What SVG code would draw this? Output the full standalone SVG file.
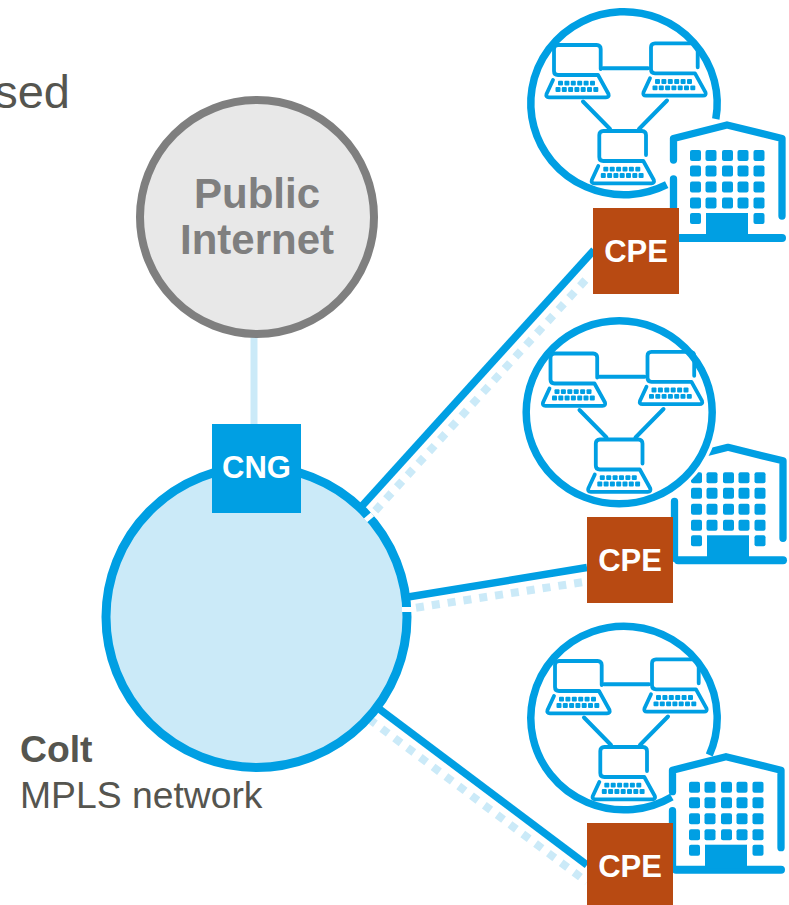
<svg xmlns="http://www.w3.org/2000/svg" xmlns:xlink="http://www.w3.org/1999/xlink" width="789" height="905" viewBox="0 0 789 905">
<style>
text{font-family:"Liberation Sans",Arial,sans-serif}
.ln{fill:none;stroke:#009fe3;stroke-linecap:round;stroke-linejoin:round}
.ring{fill:none;stroke:#009fe3;stroke-width:7.500}
.solid{stroke:#009fe3;stroke-width:7.500;fill:none}
.dash{stroke:#cbeaf8;stroke-width:8;stroke-dasharray:8 8;fill:none}
.cpe{fill:#b84a12}
.lab{fill:#fff;font-weight:700;font-size:31px;text-anchor:middle}
.f{fill:#009fe3}
.dark{fill:#55554f;font-size:37.300px}
</style>
<defs>
<g id="laptop">
<path class="ln" stroke-width="3.800" d="M47.700 25V5Q47.700 1 43.700 1H5Q1 1 1 5V27Q1 31 5 31H45L55.500 50Q56.500 53.300 53 53.300H-4Q-7.500 53.300 -6.500 50L0 36"/>
<g class="f">
<rect x="5" y="36.800" width="5" height="4.800" rx="1"/><rect x="11.400" y="36.800" width="5" height="4.800" rx="1"/><rect x="17.800" y="36.800" width="5" height="4.800" rx="1"/><rect x="24.200" y="36.800" width="5" height="4.800" rx="1"/><rect x="30.600" y="36.800" width="5" height="4.800" rx="1"/><rect x="37" y="36.800" width="5" height="4.800" rx="1"/>
<rect x="2.500" y="43.100" width="5" height="4.800" rx="1"/><rect x="8.800" y="43.100" width="5" height="4.800" rx="1"/><rect x="15.100" y="43.100" width="5" height="4.800" rx="1"/><rect x="21.400" y="43.100" width="5" height="4.800" rx="1"/><rect x="27.700" y="43.100" width="5" height="4.800" rx="1"/><rect x="34" y="43.100" width="5" height="4.800" rx="1"/><rect x="40.300" y="43.100" width="5" height="4.800" rx="1"/>
</g>
</g>
<g id="lan">
<use xlink:href="#laptop" href="#laptop" x="553" y="44"/>
<use xlink:href="#laptop" href="#laptop" x="650" y="42.300"/>
<use xlink:href="#laptop" href="#laptop" x="598.300" y="130"/>
<path class="ln" stroke-width="4" stroke-linecap="butt" d="M603 68.300H648M583 101.500L610 129M667 100.500L639 129"/>
</g>
<g id="building">
<path class="ln" stroke-width="7.300" d="M673.500 160V138.500L727 125L782 138.500V216M673.500 179V236"/>
<path class="ln" stroke-width="8" d="M677 238H782"/>
<g class="f">
<rect x="706" y="213" width="42" height="24"/>
<rect x="690" y="150" width="11" height="11" rx="2"/><rect x="705.500" y="150" width="11" height="11" rx="2"/><rect x="722" y="150" width="11" height="11" rx="2"/><rect x="737.500" y="150" width="11" height="11" rx="2"/><rect x="753.500" y="150" width="11" height="11" rx="2"/>
<rect x="690" y="165.500" width="11" height="11" rx="2"/><rect x="705.500" y="165.500" width="11" height="11" rx="2"/><rect x="722" y="165.500" width="11" height="11" rx="2"/><rect x="737.500" y="165.500" width="11" height="11" rx="2"/><rect x="753.500" y="165.500" width="11" height="11" rx="2"/>
<rect x="690" y="181.500" width="11" height="11" rx="2"/><rect x="705.500" y="181.500" width="11" height="11" rx="2"/><rect x="722" y="181.500" width="11" height="11" rx="2"/><rect x="737.500" y="181.500" width="11" height="11" rx="2"/><rect x="753.500" y="181.500" width="11" height="11" rx="2"/>
<rect x="690" y="197.500" width="11" height="11" rx="2"/><rect x="705.500" y="197.500" width="11" height="11" rx="2"/><rect x="722" y="197.500" width="11" height="11" rx="2"/><rect x="737.500" y="197.500" width="11" height="11" rx="2"/><rect x="753.500" y="197.500" width="11" height="11" rx="2"/>
<rect x="690" y="213" width="11" height="11" rx="2"/><rect x="753.500" y="213" width="11" height="11" rx="2"/>
</g>
</g>
</defs>
<text x="70" y="108" font-size="47" fill="#55554f" text-anchor="end">sed</text>
<g id="connectors">
<path d="M254 335V425" stroke="#cbeaf8" stroke-width="7" fill="none"/>
<path class="solid" d="M362 506L594 250"/>
<path class="dash" d="M375.300 510.700L590 275"/>
<path class="solid" d="M408 597L587 567.500"/>
<path class="dash" d="M416 607.700L587 581.500"/>
<path class="solid" d="M378 708L587 865"/>
<path class="dash" d="M369 719L587 882"/>
</g>
<g id="public-internet">
<circle cx="257" cy="217" r="117" fill="#e8e8e8" stroke="#7f7f7f" stroke-width="8"/>
<text x="257" y="208" font-size="42" font-weight="700" fill="#7f7f7f" text-anchor="middle">Public</text>
<text x="257" y="254" font-size="42" font-weight="700" fill="#7f7f7f" text-anchor="middle">Internet</text>
</g>
<g id="colt-mpls">
<circle cx="256.500" cy="617" r="150.500" fill="#cbeaf8" stroke="#009fe3" stroke-width="9"/>
<path d="M365.500 520.400L372.500 514.400M402 609.500H412" stroke="#fff" stroke-width="5" fill="none"/>
<text class="dark" x="20" y="762" font-weight="700">Colt</text>
<text class="dark" x="20" y="808">MPLS network</text>
</g>
<g id="cng">
<rect x="212" y="424" width="89" height="89" fill="#009fe3"/>
<text class="lab" x="256.500" y="478">CNG</text>
</g>
<g id="site-1">
<path class="ring" d="M715.800 119A93.200 91.500 0 1 0 666.700 184.600"/>
<use xlink:href="#lan" href="#lan"/>
<use xlink:href="#building" href="#building"/>
<rect class="cpe" x="593" y="208" width="86" height="86"/>
<text class="lab" x="636" y="262">CPE</text>
</g>
<g id="site-2">
<use xlink:href="#building" href="#building" x="1" y="322.300"/>
<ellipse cx="619.200" cy="412.300" rx="100" ry="98" fill="#fff"/>
<ellipse class="ring" cx="619.200" cy="412.300" rx="93" ry="91.500"/>
<use xlink:href="#lan" href="#lan" x="-3.500" y="308.500"/>
<rect class="cpe" x="587" y="517" width="86" height="86"/>
<text class="lab" x="630" y="571">CPE</text>
</g>
<g id="site-3">
<path class="ring" d="M709.300 755A93.200 91.800 0 1 0 671.700 796.900"/>
<use xlink:href="#lan" href="#lan" x="1" y="616"/>
<use xlink:href="#building" href="#building" x="-1" y="631.700"/>
<rect class="cpe" x="587" y="823" width="86" height="82"/>
<text class="lab" x="630" y="877">CPE</text>
</g>
</svg>
